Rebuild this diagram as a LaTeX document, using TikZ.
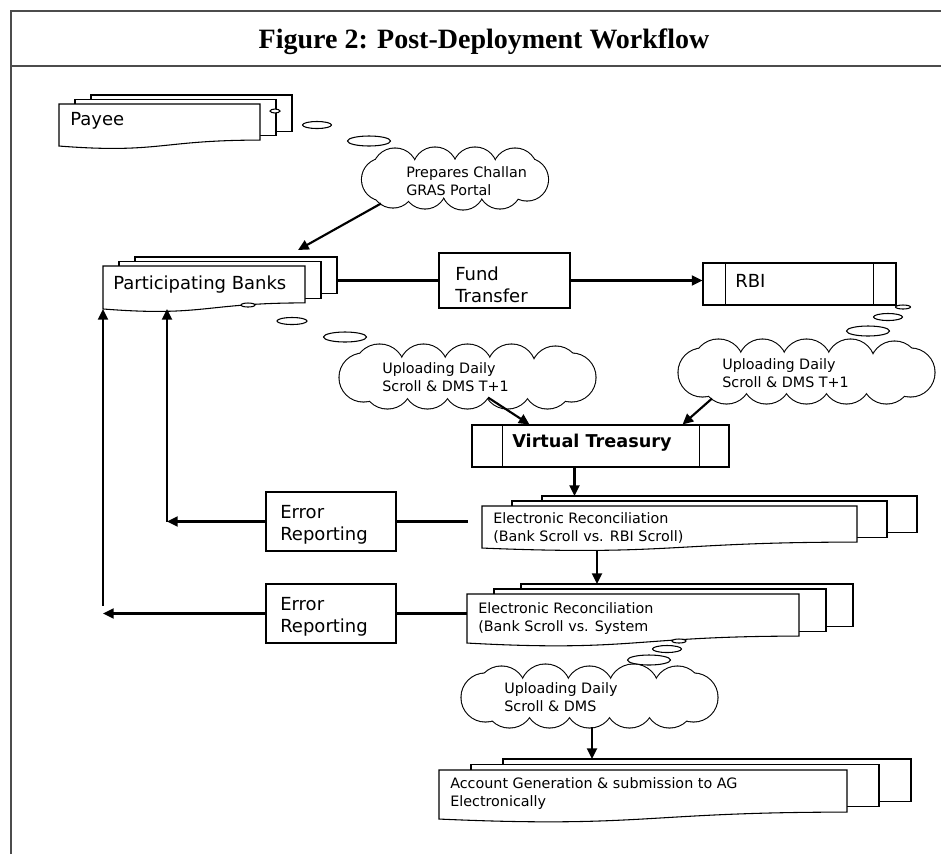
\documentclass[tikz,border=0pt]{standalone}
\usepackage{fontspec}
\setmainfont{DejaVu Sans}
\newfontfamily\headfont{Liberation Serif}
\usetikzlibrary{arrows.meta}

% stack of three pages, the front one with a wavy bottom edge
% #1 name, #2 left, #3 top, #4 width, #5 height, #6 page step x, #7 page step y
\newcommand{\docstack}[7]{%
  \begin{scope}[shift={(#2,#3)}]
    \pgfmathsetmacro\docR{0.802*#5}
    \pgfmathsetmacro\docL{0.934*#5}
    \pgfmathsetmacro\docW{1.107*#5}
    \draw[page] (2*#6,-2*#7) rectangle (#4+2*#6,\docR-2*#7);
    \draw[page] (#6,-#7) rectangle (#4+#6,\docR-#7);
    \draw[page] (0,0) -- (#4,0) -- (#4,\docR)
      .. controls (#4/2,\docR) and (#4/2,\docW) .. (0,\docL) -- cycle;
    \pgfmathsetmacro\docwd{0.75*(#4+2*#6)}
    \pgfmathsetmacro\docht{0.75*(\docL+2*#7)}
    \node[minimum width=\docwd pt, minimum height=\docht pt, inner sep=0pt, outer sep=0pt]
      (#1) at ({(#4+2*#6)/2},{(\docL-2*#7)/2}) {};
  \end{scope}}

% cloud made of overlapping puffs
% #1 name, #2 centre, #3 puffs as x/y/radius
\newcommand{\puffcloud}[3]{%
  \begin{scope}[shift={#2}]
    \foreach \px/\py/\pr in {#3} \draw[line width=1.6pt] (\px,\py) circle (\pr);
    \foreach \px/\py/\pr in {#3} \fill[white] (\px,\py) circle (\pr);
    \node[inner sep=0pt] (#1) at (0,0) {};
  \end{scope}}

\begin{document}
\begin{tikzpicture}[x=0.75pt, y=-0.75pt,
  page/.style={draw, fill=white, line width=0.8pt},
  procbox/.style={draw, fill=white, line width=0.8pt, inner sep=0pt},
  bubble/.style={draw, fill=white, line width=0.8pt},
  bigtext/.style={font=\fontsize{13.5}{16.5}\selectfont, inner sep=0pt, align=left},
  smalltext/.style={font=\fontsize{10.75}{13.5}\selectfont, inner sep=0pt, align=left},
  flow/.style={line width=1.6pt, -{Triangle[length=8pt,width=7.5pt]}},
  link/.style={line width=1.6pt}]

  \useasboundingbox (0,0) rectangle (941,854);

  % frame and title

  \draw[black!70, line width=1.5pt] (11,854) -- (11,11) -- (941,11);
  \draw[black!70, line width=1.5pt] (11,66) -- (941,66);
  \node[font=\headfont\bfseries\fontsize{21}{25}\selectfont, anchor=base] (title)
    at (484,48) {Figure 2: Post-Deployment Workflow};

  % payee and banks

  \docstack{payee}{59}{104}{201}{45}{16}{4.5}
  \node[bigtext, anchor=base west] (payeetxt) at (70,125.5) {Payee};
  \draw[bubble] (275,111) ellipse (5 and 2);
  \draw[bubble] (317,125) ellipse (14.5 and 3.5);
  \draw[bubble] (369,141) ellipse (21.5 and 5);

  \puffcloud{challan}{(455,178.5)}{-60/-8/22, -20/-9/22, 20/-9/22, 60/-8/22, 72/1/21,
    45/9/21, 8/10/21, -30/9/21, -62/8/21, -72/1/21}
  \node[smalltext, anchor=north west] (challantxt) at (406,166.5) {Prepares Challan\\GRAS Portal};

  \docstack{banks}{103}{266}{202}{46}{16}{4.5}
  \node[bigtext, anchor=base west] (bankstxt) at (113,289) {Participating Banks};
  \draw[bubble] (248,305) ellipse (7 and 2);
  \draw[bubble] (292,321) ellipse (15 and 3.5);
  \draw[bubble] (345,337) ellipse (21.5 and 5);

  \node[procbox, minimum width=98.25pt, minimum height=41.25pt] (fund) at (504.5,280.5) {};
  \node[bigtext, anchor=north west] (fundtxt) at (455,267) {Fund\\Transfer};

  \node[procbox, minimum width=144.75pt, minimum height=31.5pt] (rbi) at (799.5,284) {};
  \draw ([shift={(23,0)}]rbi.north west) -- ([shift={(23,0)}]rbi.south west);
  \draw ([shift={(-23,0)}]rbi.north east) -- ([shift={(-23,0)}]rbi.south east);
  \node[bigtext, anchor=base west] (rbitxt) at (735,287) {RBI};
  \draw[bubble] (903,307) ellipse (7.5 and 2);
  \draw[bubble] (888,317) ellipse (14.5 and 3.5);
  \draw[bubble] (868,331) ellipse (21.5 and 5);

  % treasury and uploads

  \puffcloud{upleft}{(467.5,376.5)}{-88/-7/25, -44/-8/24, 0/-7/25, 44/-8/24, 88/-6/24,
    104/1/24, 80/8/24, 40/8/24, 0/8/24, -40/8/24, -80/8/24, -104/1/24}
  \node[smalltext, anchor=north west] (uplefttxt) at (382,362.5) {Uploading Daily\\Scroll \& DMS T+1};
  \puffcloud{upright}{(806.5,371.5)}{-88/-7/25, -44/-8/24, 0/-7/25, 44/-8/24, 88/-6/24,
    104/1/24, 80/8/24, 40/8/24, 0/8/24, -40/8/24, -80/8/24, -104/1/24}
  \node[smalltext, anchor=north west] (uprighttxt) at (722,358) {Uploading Daily\\Scroll \& DMS T+1};

  \node[procbox, minimum width=192.75pt, minimum height=31.5pt] (vt) at (600.5,446) {};
  \draw ([shift={(31,0)}]vt.north west) -- ([shift={(31,0)}]vt.south west);
  \draw ([shift={(-30,0)}]vt.north east) -- ([shift={(-30,0)}]vt.south east);
  \node[bigtext, font=\bfseries\fontsize{13.25}{15}\selectfont, anchor=base] (vttxt)
    at (592,447) {Virtual Treasury};

  % reconciliation and error reporting

  \docstack{recrbi}{482}{506}{375}{45}{30}{5}
  \node[smalltext, anchor=north west] (recrbitxt) at (493,512.5)
    {Electronic Reconciliation\\(Bank Scroll vs. RBI Scroll)};

  \docstack{recsys}{467}{594}{332}{52.5}{27}{5}
  \node[smalltext, anchor=north west] (recsystxt) at (478,602.5)
    {Electronic Reconciliation\\(Bank Scroll vs. System};
  \draw[bubble] (679,641) ellipse (7 and 2);
  \draw[bubble] (667,649) ellipse (14.5 and 3.5);
  \draw[bubble] (649,660) ellipse (21.5 and 5);

  \node[procbox, minimum width=97.5pt, minimum height=44.25pt] (err1) at (331,521.5) {};
  \node[bigtext, anchor=north west] (err1txt) at (280,505) {Error\\Reporting};
  \node[procbox, minimum width=97.5pt, minimum height=44.25pt] (err2) at (331,613.5) {};
  \node[bigtext, anchor=north west] (err2txt) at (280,597) {Error\\Reporting};

  % account generation

  \puffcloud{updms}{(589.5,696.5)}{-88/-6/24, -44/-7/25, 0/-6/24, 44/-7/25, 88/-6/24,
    104/1/24, 80/7/24, 40/7/24, 0/7/24, -40/7/24, -80/7/24, -104/1/24}
  \node[smalltext, anchor=north west] (updmstxt) at (504,682.5) {Uploading Daily\\Scroll \& DMS};

  \docstack{account}{439}{770}{408}{52.5}{32}{5.5}
  \node[smalltext, anchor=north west] (accounttxt) at (450,777.5)
    {Account Generation \& submission to AG\\Electronically};

  % connections

  \draw[flow] ([shift={(-74,25)}]challan.center) -- ([shift={(-39,-7)}]banks.north east);
  \draw[link] (banks.east |- fund.west) -- (fund.west);
  \draw[flow] (fund.east) -- (fund.east -| rbi.west);
  \draw[flow] ([shift={(20.5,21)}]upleft.center) -- ([shift={(58,0)}]vt.north west);
  \draw[flow] ([shift={(-94.5,27)}]upright.center) -- ([shift={(-47,0)}]vt.north east);

  \coordinate (vtout) at ([shift={(-26,0)}]vt.south);
  \draw[flow] (vtout) -- (vtout |- recrbi.north);
  \coordinate (recout) at ([shift={(-102.5,2)}]recrbi.south);
  \draw[flow] (recout) -- (recout |- recsys.north);
  \coordinate (updmsout) at ([shift={(2.5,30.5)}]updms.center);
  \draw[flow] (updmsout) -- (updmsout |- account.north);

  \coordinate (recrbiin) at ([shift={(-14,0)}]recrbi.west);
  \draw[link] (err1.east) -- (err1.east -| recrbiin);
  \coordinate (turn1) at (167,521.5);
  \draw[flow] (err1.west) -- (turn1);
  \draw[flow] (turn1) -- (turn1 |- banks.south);

  \draw[link] (err2.east) -- (err2.east -| recsys.west);
  \coordinate (turn2) at (103,613.5);
  \draw[flow] (err2.west) -- (turn2);
  \draw[flow] ([shift={(0,-8)}]turn2) -- (turn2 |- banks.south);
\end{tikzpicture}
\end{document}
